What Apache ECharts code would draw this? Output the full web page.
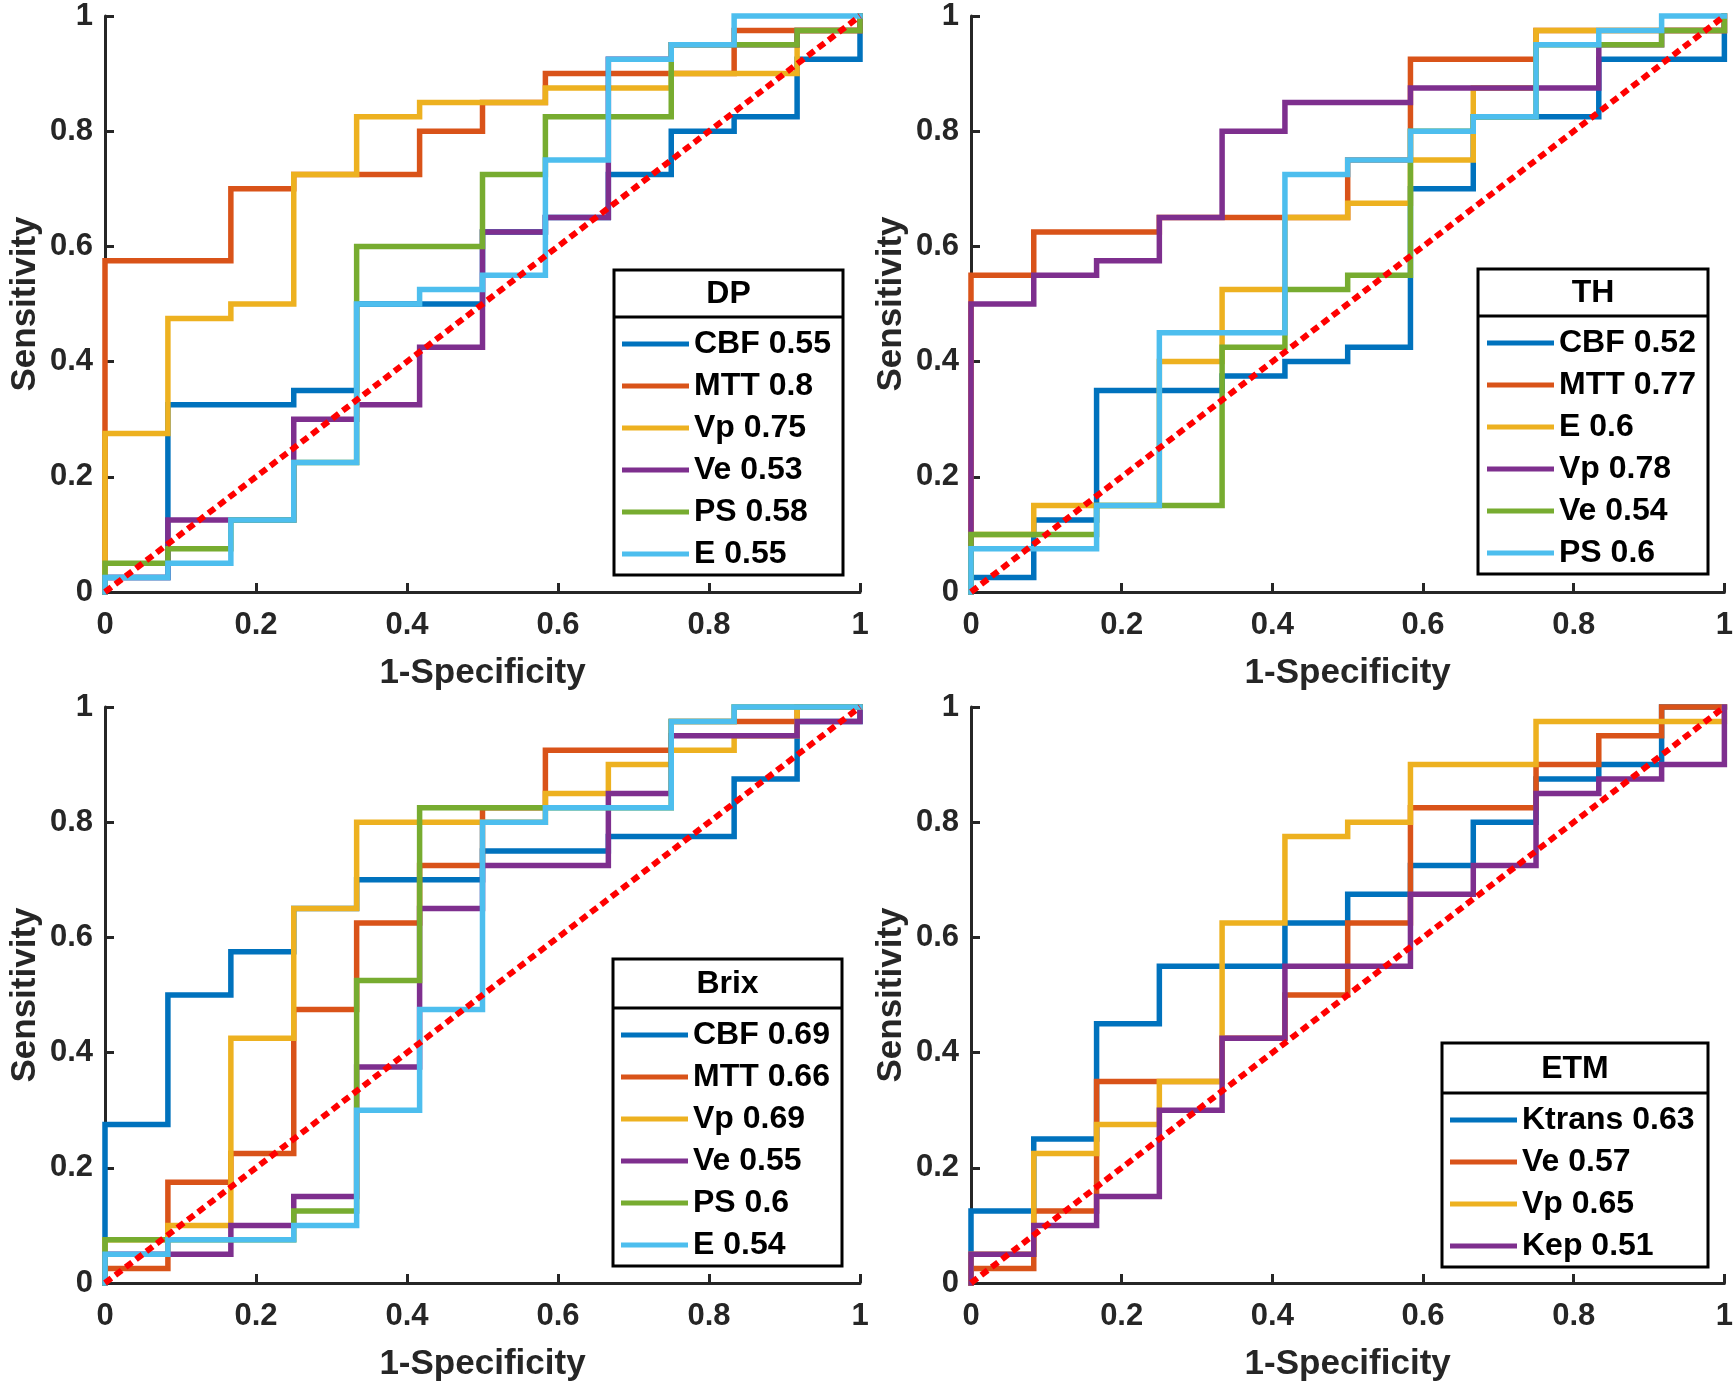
<!DOCTYPE html>
<html>
<head>
<meta charset="utf-8">
<script src="https://cdn.jsdelivr.net/npm/echarts@6/dist/echarts.min.js"></script>
<style>
  html, body { margin: 0; padding: 0; background: #fff; }
  #chart { width: 1736px; height: 1389px; }
</style>
</head>
<body>
<div id="chart"></div>
<script>
// False positive rate steps (12 negatives per panel)
const fprEdges = [0, 0.0833, 0.1667, 0.25, 0.3333, 0.4167, 0.5, 0.5833, 0.6667, 0.75, 0.8333, 0.9167, 1];

// Sensitivity level on each FPR step
// DP
const dpNames = ['CBF 0.55', 'MTT 0.8', 'Vp 0.75', 'Ve 0.53', 'PS 0.58', 'E 0.55'];
const dpCBF = [0.025, 0.325, 0.325, 0.35, 0.5, 0.5, 0.625, 0.65, 0.725, 0.8, 0.825, 0.925];
const dpMTT = [0.575, 0.575, 0.7, 0.725, 0.725, 0.8, 0.85, 0.9, 0.9, 0.9, 0.975, 0.975];
const dpVp  = [0.275, 0.475, 0.5, 0.725, 0.825, 0.85, 0.85, 0.875, 0.875, 0.9, 0.9, 0.975];
const dpVe  = [0.025, 0.125, 0.125, 0.3, 0.325, 0.425, 0.625, 0.65, 0.925, 0.95, 0.95, 0.975];
const dpPS  = [0.05, 0.075, 0.125, 0.225, 0.6, 0.6, 0.725, 0.825, 0.825, 0.95, 0.95, 0.975];
const dpE   = [0.025, 0.05, 0.125, 0.225, 0.5, 0.525, 0.55, 0.75, 0.925, 0.95, 1, 1];

// TH
const thNames = ['CBF 0.52', 'MTT 0.77', 'E 0.6', 'Vp 0.78', 'Ve 0.54', 'PS 0.6'];
const thCBF = [0.025, 0.125, 0.35, 0.35, 0.375, 0.4, 0.425, 0.7, 0.825, 0.825, 0.925, 0.925];
const thMTT = [0.55, 0.625, 0.625, 0.65, 0.65, 0.65, 0.75, 0.925, 0.925, 0.975, 0.975, 0.975];
const thE   = [0.1, 0.15, 0.15, 0.4, 0.525, 0.65, 0.675, 0.75, 0.875, 0.975, 0.975, 0.975];
const thVp  = [0.5, 0.55, 0.575, 0.65, 0.8, 0.85, 0.85, 0.875, 0.875, 0.875, 0.95, 0.975];
const thVe  = [0.1, 0.1, 0.15, 0.15, 0.425, 0.525, 0.55, 0.8, 0.825, 0.95, 0.95, 0.975];
const thPS  = [0.075, 0.075, 0.15, 0.45, 0.45, 0.725, 0.75, 0.8, 0.825, 0.95, 0.975, 1];

// Brix
const brixNames = ['CBF 0.69', 'MTT 0.66', 'Vp 0.69', 'Ve 0.55', 'PS 0.6', 'E 0.54'];
const brixCBF = [0.275, 0.5, 0.575, 0.65, 0.7, 0.7, 0.75, 0.75, 0.775, 0.775, 0.875, 0.975];
const brixMTT = [0.025, 0.175, 0.225, 0.475, 0.625, 0.725, 0.825, 0.925, 0.925, 0.975, 0.975, 1];
const brixVp  = [0.075, 0.1, 0.425, 0.65, 0.8, 0.8, 0.8, 0.85, 0.9, 0.925, 0.95, 1];
const brixVe  = [0.05, 0.05, 0.1, 0.15, 0.375, 0.65, 0.725, 0.725, 0.85, 0.95, 0.95, 0.975];
const brixPS  = [0.075, 0.075, 0.075, 0.125, 0.525, 0.825, 0.825, 0.825, 0.825, 0.975, 1, 1];
const brixE   = [0.05, 0.075, 0.075, 0.1, 0.3, 0.475, 0.8, 0.825, 0.825, 0.975, 1, 1];

// ETM
const etmNames = ['Ktrans 0.63', 'Ve 0.57', 'Vp 0.65', 'Kep 0.51'];
const etmKtrans = [0.125, 0.25, 0.45, 0.55, 0.55, 0.625, 0.675, 0.725, 0.8, 0.875, 0.9, 1];
const etmVe     = [0.025, 0.125, 0.35, 0.35, 0.425, 0.5, 0.625, 0.825, 0.825, 0.9, 0.95, 1];
const etmVp     = [0.05, 0.225, 0.275, 0.35, 0.625, 0.775, 0.8, 0.9, 0.9, 0.975, 0.975, 0.975];
const etmKep    = [0.05, 0.1, 0.15, 0.3, 0.425, 0.55, 0.55, 0.675, 0.725, 0.85, 0.875, 0.9];

const diagonal = [[0, 0], [1, 1]];

// MATLAB default line colours
const colors = ['#0072BD', '#D95319', '#EDB120', '#7E2F8E', '#77AC30', '#4DBEEE'];
const FONT = "'Liberation Sans', Arial, Helvetica, sans-serif";
const AXIS_COLOR = '#262626';

const panels = [
  { title: 'DP',   names: dpNames,   levels: [dpCBF, dpMTT, dpVp, dpVe, dpPS, dpE],
    grid: { left: 105, top: 16 },  legend: { left: 614, top: 270, width: 229, titleH: 47, padL: 8 } },
  { title: 'TH',   names: thNames,   levels: [thCBF, thMTT, thE, thVp, thVe, thPS],
    grid: { left: 971, top: 16 },  legend: { left: 1478, top: 269, width: 230, titleH: 47, padL: 9 } },
  { title: 'Brix', names: brixNames, levels: [brixCBF, brixMTT, brixVp, brixVe, brixPS, brixE],
    grid: { left: 105, top: 707 }, legend: { left: 613, top: 959, width: 229, titleH: 49, padL: 8 } },
  { title: 'ETM',  names: etmNames,  levels: [etmKtrans, etmVe, etmVp, etmKep],
    grid: { left: 971, top: 707 }, legend: { left: 1442, top: 1043, width: 266, titleH: 50, padL: 8 } }
];

const PLOT_W = 755;
const PLOT_H = 576;
const ROW_H = 42;
const ICON_W = 67;

function stepPoints( levels ) {
  const pts = [[0, 0]];
  levels.forEach( ( v, i ) => {
    pts.push( [fprEdges[i], v] );
    pts.push( [fprEdges[i + 1], v] );
  } );
  pts.push( [1, 1] );
  return pts;
}

const grids = [], xAxes = [], yAxes = [], series = [], legends = [], graphics = [];

panels.forEach( ( p, pi ) => {
  grids.push( { left: p.grid.left, top: p.grid.top, width: PLOT_W, height: PLOT_H, containLabel: false } );

  const axisCommon = {
    min: 0, max: 1, interval: 0.2,
    axisLine: { lineStyle: { color: AXIS_COLOR, width: 3 } },
    axisTick: { inside: true, length: 9, lineStyle: { color: AXIS_COLOR, width: 3 } },
    splitLine: { show: false },
    axisLabel: { color: AXIS_COLOR, fontFamily: FONT, fontWeight: 'bold', fontSize: 31 },
    nameLocation: 'middle',
    nameTextStyle: { color: AXIS_COLOR, fontFamily: FONT, fontWeight: 'bold', fontSize: 35 }
  };

  xAxes.push( Object.assign( {}, axisCommon, {
    type: 'value', gridIndex: pi, name: '1-Specificity', nameGap: 64,
    axisLabel: Object.assign( {}, axisCommon.axisLabel, { margin: 18 } )
  } ) );
  yAxes.push( Object.assign( {}, axisCommon, {
    type: 'value', gridIndex: pi, name: 'Sensitivity', nameGap: 62,
    axisLabel: Object.assign( {}, axisCommon.axisLabel, { margin: 12 } )
  } ) );

  const seriesNames = p.names.map( n => p.title + '|' + n );
  p.levels.forEach( ( lv, si ) => {
    series.push( {
      type: 'line', name: seriesNames[si], xAxisIndex: pi, yAxisIndex: pi,
      data: stepPoints( lv ), showSymbol: false, symbol: 'none', clip: false,
      color: colors[si],
      lineStyle: { color: colors[si], width: 5.5, cap: 'square', join: 'miter' }
    } );
  } );

  series.push( {
    type: 'line', name: p.title + '|diag', xAxisIndex: pi, yAxisIndex: pi,
    data: diagonal, showSymbol: false, symbol: 'none', clip: false, z: 3,
    lineStyle: { color: '#FF0000', width: 6, type: [8, 5], cap: 'butt' }
  } );

  const lg = p.legend;
  const textW = lg.width - lg.padL - ICON_W - 5 - 3;
  legends.push( {
    orient: 'vertical', left: lg.left, top: lg.top,
    data: seriesNames,
    formatter: n => n.split( '|' )[1],
    icon: 'rect', itemWidth: ICON_W, itemHeight: 5, itemGap: 0,
    padding: [lg.titleH + 6, 3, 0, lg.padL],
    borderColor: '#000', borderWidth: 3, backgroundColor: '#fff',
    selectedMode: false,
    textStyle: { color: '#000', fontFamily: FONT, fontWeight: 'bold', fontSize: 32,
      lineHeight: ROW_H, width: textW }
  } );

  graphics.push( {
    type: 'text', x: lg.left + lg.width / 2, y: lg.top + lg.titleH / 2 + 1, z: 100,
    style: { text: p.title, align: 'center', verticalAlign: 'middle', fill: '#000',
      font: 'bold 32px ' + FONT },
    silent: true
  } );
  graphics.push( {
    type: 'line', z: 100, silent: true,
    shape: { x1: lg.left, y1: lg.top + lg.titleH, x2: lg.left + lg.width, y2: lg.top + lg.titleH },
    style: { stroke: '#000', lineWidth: 3 }
  } );
} );

const chart = echarts.init( document.getElementById( 'chart' ), null, { renderer: 'canvas' } );
chart.setOption( {
  animation: false,
  backgroundColor: '#fff',
  grid: grids,
  xAxis: xAxes,
  yAxis: yAxes,
  legend: legends,
  graphic: graphics,
  series: series
} );
</script>
</body>
</html>
